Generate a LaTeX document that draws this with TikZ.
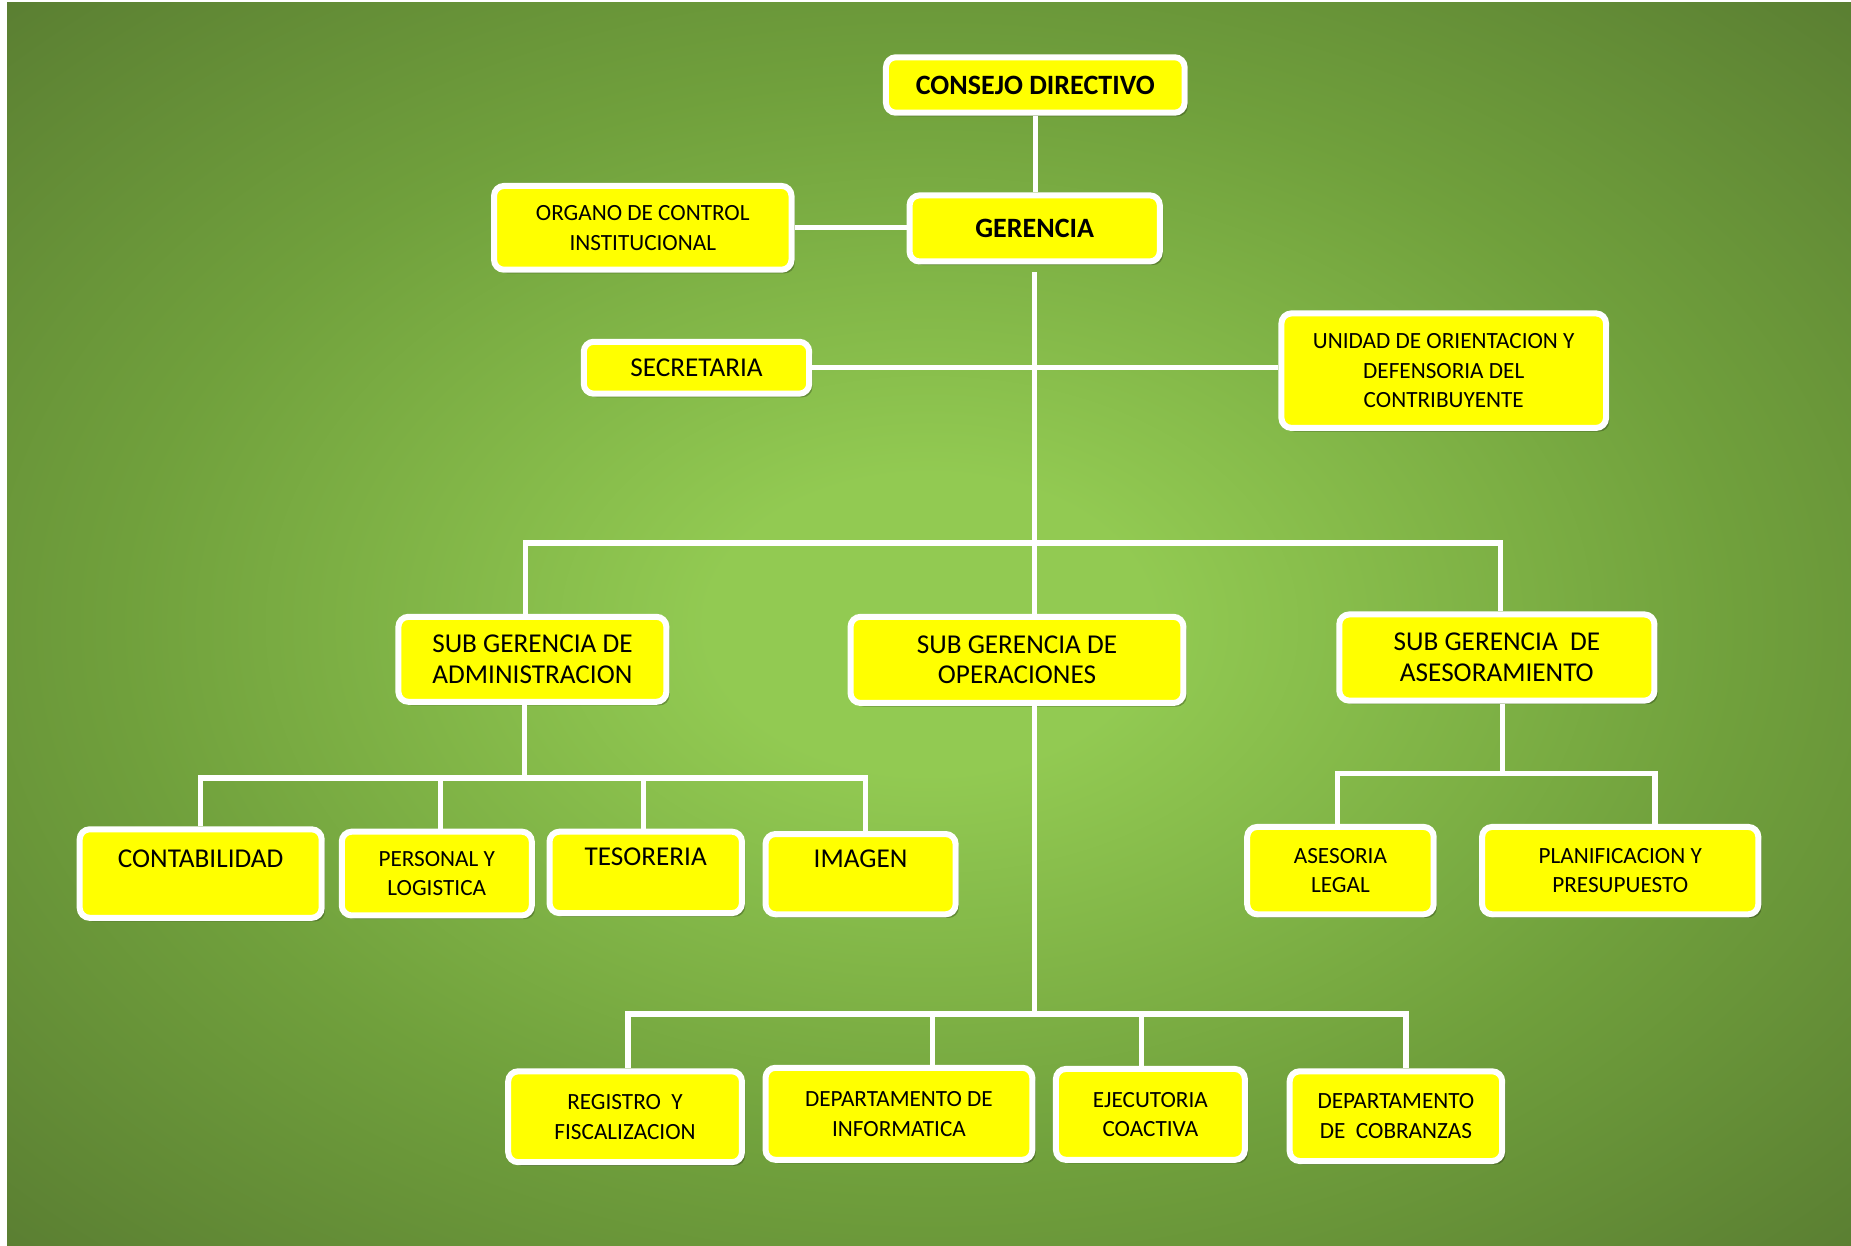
\documentclass[tikz,border=0pt]{standalone}
\usepackage{fontspec}
\setmainfont{Carlito}
\usetikzlibrary{shadows}
\definecolor{bgin}{RGB}{146,202,82}
\definecolor{bgmid}{RGB}{112,160,60}
\definecolor{bgout}{RGB}{88,123,49}
\definecolor{boxyellow}{RGB}{255,255,0}
\pgfdeclareradialshading{bgrad}{\pgfpoint{0bp}{0bp}}{color(0bp)=(bgin); color(6bp)=(bgin); color(22bp)=(bgmid); color(37bp)=(bgout); color(75bp)=(bgout)}
\newcommand\bigtxt{\fontsize{13.6}{15.3}\selectfont}
\newcommand\smalltxt{\fontsize{11.6}{14.8}\selectfont}
\newcommand\boldtxt{\fontsize{14}{15.3}\selectfont\bfseries}
\tikzset{
  box/.style={draw=white, line width=3pt, fill=boxyellow, rounded corners=5pt,
    inner sep=0pt, align=center, text=black,
    drop shadow={shadow xshift=1.6pt, shadow yshift=-1.8pt, fill=black, opacity=0.25}},
  bigbox/.style={box, font=\bigtxt},
  smallbox/.style={box, font=\smalltxt},
  boldbox/.style={box, font=\boldtxt},
  conn/.style={draw=white, line width=2.6pt, line join=miter}
}
% \orgbox{style}{name}{x1}{y1}{x2}{y2}{text}
\newcommand\orgbox[7]{\node[#1, minimum width={(#5-#3)*0.59pt}, minimum height={(#6-#4)*0.59pt}] (#2) at ({(#3+#5)/2},{(#4+#6)/2}) {#7};}
\begin{document}
\begin{tikzpicture}[x=0.59pt, y=-0.59pt]
\useasboundingbox (0,0) rectangle (1568,1055);
\fill[white] (0,0) rectangle (1568,1055);
\shade[shading=bgrad] (6,2.5) rectangle (1568,1055);

% nodes
\orgbox{boldbox}{cd}{750.5}{48.5}{1003.5}{95.5}{CONSEJO DIRECTIVO}
\orgbox{boldbox}{ger}{770.5}{165.5}{982.5}{221.5}{GERENCIA}
\orgbox{smallbox}{oci}{418.5}{157.5}{670.5}{228.5}{ORGANO DE CONTROL\\INSTITUCIONAL}
\orgbox{bigbox}{sec}{494.5}{289.5}{685.5}{333.5}{SECRETARIA}
\orgbox{smallbox}{uod}{1085.5}{265.5}{1360.5}{362.5}{UNIDAD DE ORIENTACION Y\\DEFENSORIA DEL\\CONTRIBUYENTE}
\orgbox{bigbox}{sga}{337.5}{522.5}{564.5}{594.5}{SUB GERENCIA DE\\ADMINISTRACION}
\orgbox{bigbox}{sgo}{720.5}{522.5}{1002.5}{595.5}{SUB GERENCIA DE\\OPERACIONES}
\orgbox{bigbox}{sgs}{1134.5}{520.5}{1401.5}{593.5}{SUB GERENCIA\ \ DE\\ASESORAMIENTO}
\orgbox{bigbox}{cont}{67.5}{702.5}{272.5}{777.5}{CONTABILIDAD\\\mbox{}}
\orgbox{smallbox}{pers}{289.5}{704.5}{450.5}{775.5}{PERSONAL Y\\LOGISTICA}
\orgbox{bigbox}{tes}{465.5}{704.5}{628.5}{773.5}{TESORERIA\\\mbox{}}
\orgbox{bigbox}{img}{648.5}{706.5}{809.5}{774.5}{IMAGEN\\\mbox{}}
\orgbox{smallbox}{ale}{1056.5}{700.5}{1214.5}{774.5}{ASESORIA\\LEGAL}
\orgbox{smallbox}{pla}{1255.5}{700.5}{1489.5}{774.5}{PLANIFICACION Y\\PRESUPUESTO}
\orgbox{smallbox}{reg}{430.5}{907.5}{628.5}{984.5}{REGISTRO\ \ Y\\FISCALIZACION}
\orgbox{smallbox}{inf}{648.5}{904.5}{874.5}{982.5}{DEPARTAMENTO DE\\INFORMATICA}
\orgbox{smallbox}{eje}{894.5}{905.5}{1054.5}{982.5}{EJECUTORIA\\COACTIVA}
\orgbox{smallbox}{cob}{1092.5}{907.5}{1272.5}{983.5}{DEPARTAMENTO\\DE\ \ COBRANZAS}

% junction coordinates
\coordinate (b1l) at (445,460);
\coordinate (b1r) at (1271,460);
\coordinate (d2m) at (444,659);
\coordinate (d2a) at (170,659);
\coordinate (d2b) at (373,659);
\coordinate (d2c) at (545,659);
\coordinate (d2d) at (733,659);
\coordinate (d3m) at (876,859);
\coordinate (d3a) at (532,859);
\coordinate (d3b) at (790,859);
\coordinate (d3c) at (967,859);
\coordinate (d3d) at (1191,859);
\coordinate (d4m) at (1273,655);
\coordinate (d4a) at (1133,655);
\coordinate (d4b) at (1402,655);

% connectors
\draw[conn] (cd.south) -- (cd.south |- ger.north);
\draw[conn] (oci.east) -- (oci.east -| ger.west);
\draw[conn] ([yshift=-4pt]ger.south) -- (ger.south |- sgo.north);
\draw[conn] (sec.east) -- (sec.east -| uod.west);
\draw[conn] (sga.north -| b1l) -- (b1l) -- (b1r) -- (sgs.north -| b1r);

\draw[conn] (sga.south -| d2m) -- (d2m);
\draw[conn] (cont.north -| d2a) -- (d2a) -- (d2d) -- (img.north -| d2d);
\draw[conn] (d2b) -- (pers.north -| d2b);
\draw[conn] (d2c) -- (tes.north -| d2c);

\draw[conn] (sgo.south -| d3m) -- (d3m);
\draw[conn] (reg.north -| d3a) -- (d3a) -- (d3d) -- (cob.north -| d3d);
\draw[conn] (d3b) -- (inf.north -| d3b);
\draw[conn] (d3c) -- (eje.north -| d3c);

\draw[conn] (sgs.south -| d4m) -- (d4m);
\draw[conn] (ale.north -| d4a) -- (d4a) -- (d4b) -- (pla.north -| d4b);
\end{tikzpicture}
\end{document}
